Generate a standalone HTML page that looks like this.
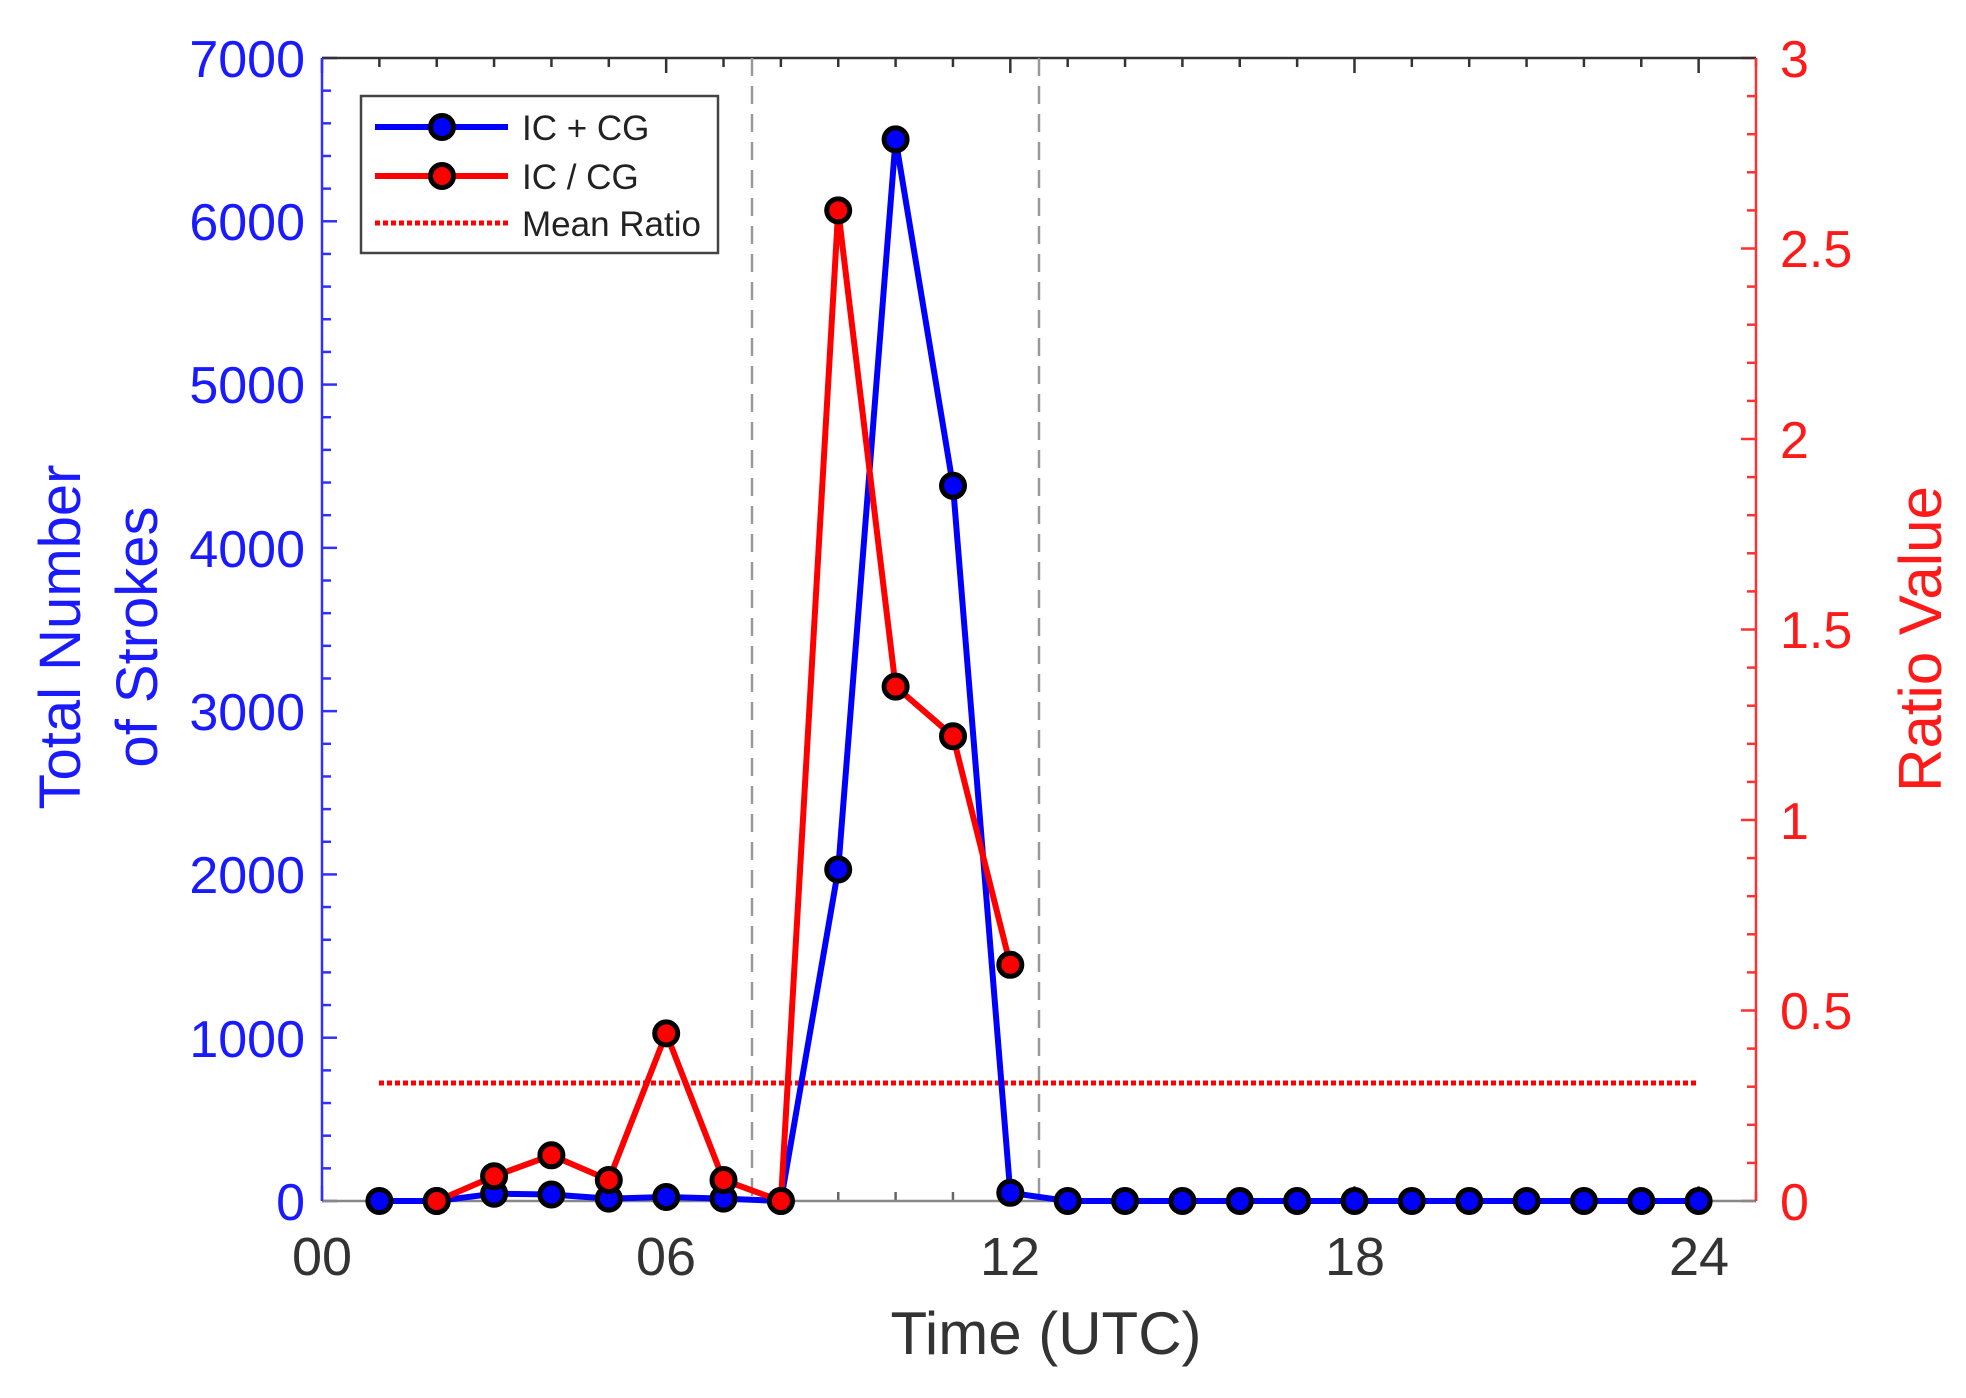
<!DOCTYPE html>
<html><head><meta charset="utf-8"><style>
html,body{margin:0;padding:0;background:#fff;}
svg{display:block;}
text{font-family:"Liberation Sans",Arial,sans-serif;}
</style></head><body>
<svg id="s" width="1966" height="1398" viewBox="0 0 1966 1398" xmlns="http://www.w3.org/2000/svg">
<rect width="1966" height="1398" fill="#fff"/>
<g id="ticks"></g>
<line x1="322" y1="58" x2="1756" y2="58" stroke="#333" stroke-width="2.5"/>
<line x1="322" y1="1201" x2="1756" y2="1201" stroke="#888" stroke-width="2.5"/>
<line x1="322" y1="58" x2="322" y2="1201" stroke="#3030ff" stroke-width="2.5"/>
<line x1="1756" y1="58" x2="1756" y2="1201" stroke="#ff3030" stroke-width="2.5"/>
<line x1="752" y1="58" x2="752" y2="1201" stroke="#999" stroke-width="2.5" stroke-dasharray="18,10"/>
<line x1="1039" y1="58" x2="1039" y2="1201" stroke="#999" stroke-width="2.5" stroke-dasharray="18,10"/>
<line x1="379" y1="1083" x2="1699" y2="1083" stroke="#ff0000" stroke-width="5" stroke-dasharray="5,3"/>
<polyline fill="none" stroke="#0000ff" stroke-width="6" stroke-linejoin="round" points="379.4,1201 436.7,1201 494.1,1193.7 551.4,1194.5 608.8,1198.6 666.2,1197 723.5,1198.6 780.9,1201 838.2,869.5 895.6,139.4 953,485.8 1010.3,1192.8 1067.7,1201 1125,1201 1182.4,1201 1239.8,1201 1297.1,1201 1354.5,1201 1411.8,1201 1469.2,1201 1526.6,1201 1583.9,1201 1641.3,1201 1698.6,1201"/>
<g fill="#0000ff" stroke="#000" stroke-width="5">
<circle cx="379.4" cy="1201" r="11.5"/><circle cx="436.7" cy="1201" r="11.5"/><circle cx="494.1" cy="1193.7" r="11.5"/><circle cx="551.4" cy="1194.5" r="11.5"/><circle cx="608.8" cy="1198.6" r="11.5"/><circle cx="666.2" cy="1197" r="11.5"/><circle cx="723.5" cy="1198.6" r="11.5"/><circle cx="780.9" cy="1201" r="11.5"/><circle cx="838.2" cy="869.5" r="11.5"/><circle cx="895.6" cy="139.4" r="11.5"/><circle cx="953" cy="485.8" r="11.5"/><circle cx="1010.3" cy="1192.8" r="11.5"/><circle cx="1067.7" cy="1201" r="11.5"/><circle cx="1125" cy="1201" r="11.5"/><circle cx="1182.4" cy="1201" r="11.5"/><circle cx="1239.8" cy="1201" r="11.5"/><circle cx="1297.1" cy="1201" r="11.5"/><circle cx="1354.5" cy="1201" r="11.5"/><circle cx="1411.8" cy="1201" r="11.5"/><circle cx="1469.2" cy="1201" r="11.5"/><circle cx="1526.6" cy="1201" r="11.5"/><circle cx="1583.9" cy="1201" r="11.5"/><circle cx="1641.3" cy="1201" r="11.5"/><circle cx="1698.6" cy="1201" r="11.5"/>
</g>
<polyline fill="none" stroke="#ff0000" stroke-width="6" stroke-linejoin="round" points="436.7,1201 494.1,1176.2 551.4,1155.3 608.8,1180 666.2,1033.4 723.5,1180 780.9,1201 838.2,210.4 895.6,686.6 953,736.2 1010.3,964.8"/>
<g fill="#ff0000" stroke="#000" stroke-width="5">
<circle cx="436.7" cy="1201" r="11.5"/><circle cx="494.1" cy="1176.2" r="11.5"/><circle cx="551.4" cy="1155.3" r="11.5"/><circle cx="608.8" cy="1180" r="11.5"/><circle cx="666.2" cy="1033.4" r="11.5"/><circle cx="723.5" cy="1180" r="11.5"/><circle cx="780.9" cy="1201" r="11.5"/><circle cx="838.2" cy="210.4" r="11.5"/><circle cx="895.6" cy="686.6" r="11.5"/><circle cx="953" cy="736.2" r="11.5"/><circle cx="1010.3" cy="964.8" r="11.5"/>
</g>
<rect x="361" y="96" width="357" height="157" fill="#fff" stroke="#444" stroke-width="2.5"/>
<line x1="375" y1="127" x2="508" y2="127" stroke="#0000ff" stroke-width="6"/>
<circle cx="442" cy="127" r="11.5" fill="#0000ff" stroke="#000" stroke-width="5"/>
<line x1="375" y1="176" x2="508" y2="176" stroke="#ff0000" stroke-width="6"/>
<circle cx="442" cy="176" r="11.5" fill="#ff0000" stroke="#000" stroke-width="5"/>
<line x1="375" y1="223" x2="508" y2="223" stroke="#ff0000" stroke-width="5" stroke-dasharray="5,3"/>
<g font-size="35" fill="#222">
<text x="522" y="140">IC + CG</text>
<text x="522" y="189">IC / CG</text>
<text x="522" y="236">Mean Ratio</text>
</g>
<g font-size="52" fill="#1a1aff" text-anchor="end">
<text x="305" y="77">7000</text><text x="305" y="240">6000</text><text x="305" y="403">5000</text><text x="305" y="567">4000</text><text x="305" y="730">3000</text><text x="305" y="893">2000</text><text x="305" y="1057">1000</text><text x="305" y="1220">0</text>
</g>
<g font-size="52" fill="#ff1a1a">
<text x="1780" y="77">3</text><text x="1780" y="267">2.5</text><text x="1780" y="458">2</text><text x="1780" y="648">1.5</text><text x="1780" y="839">1</text><text x="1780" y="1029">0.5</text><text x="1780" y="1220">0</text>
</g>
<g font-size="54" fill="#333" text-anchor="middle">
<text x="322" y="1275">00</text><text x="666" y="1275">06</text><text x="1010" y="1275">12</text><text x="1355" y="1275">18</text><text x="1699" y="1275">24</text>
</g>
<text x="1046" y="1354" font-size="60" fill="#333" text-anchor="middle">Time (UTC)</text>
<g font-size="58" fill="#1a1aff" text-anchor="middle">
<text transform="translate(80,637) rotate(-90)">Total Number</text>
<text transform="translate(157,637) rotate(-90)">of Strokes</text>
</g>
<text transform="translate(1941,639) rotate(-90)" font-size="60" fill="#ff1a1a" text-anchor="middle">Ratio Value</text>
</svg>
<script>
var g=document.getElementById('ticks'),ns='http://www.w3.org/2000/svg';
function L(x1,y1,x2,y2,c){var l=document.createElementNS(ns,'line');l.setAttribute('x1',x1);l.setAttribute('y1',y1);l.setAttribute('x2',x2);l.setAttribute('y2',y2);l.setAttribute('stroke',c);l.setAttribute('stroke-width','2.5');g.appendChild(l);}
for(var h=0;h<=25;h++){var x=322+57.36*h,len=(h%6==0)?15:9;L(x,58,x,58+len,'#333');L(x,1201,x,1201-len,'#666');}
for(var v=0;v<=7000;v+=200){var y=1201-v/7000*1143,len=(v%1000==0)?15:9;L(322,y,322+len,y,'#3030ff');}
for(var i=0;i<=30;i++){var y=1201-i/30*1143,len=(i%5==0)?15:9;L(1756,y,1756-len,y,'#ff3030');}
</script>
</body></html>
